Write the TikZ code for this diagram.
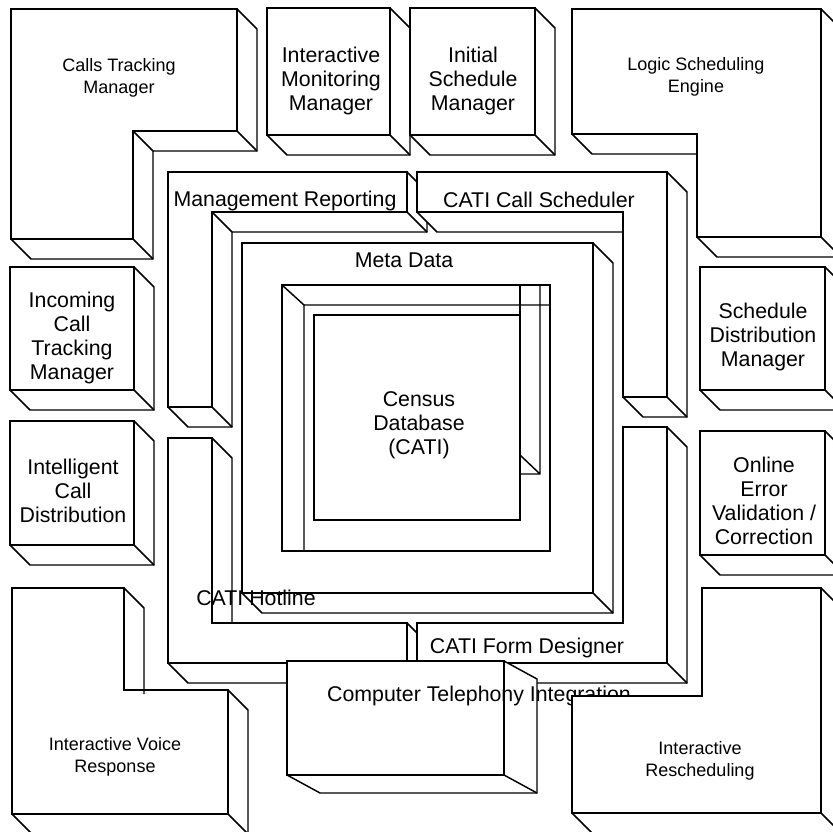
\documentclass[tikz,border=0pt]{standalone}
\usepackage{fontspec}
\setmainfont{Liberation Sans}

% block with depth: x0, y0, x1, y1, dx, dy
\newcommand{\cubeblock}[6]{%
  \filldraw[face] (#1,#2) -- (#3,#2) -- (#3+#5,#2+#6) -- (#3+#5,#4+#6) -- (#1+#5,#4+#6) -- (#1,#4) -- cycle;
  \draw[face] (#1,#2) rectangle (#3,#4);
  \draw[edge] (#3,#4) -- (#3+#5,#4+#6);
}

\tikzset{
  face/.style={draw=black, fill=white, line width=1.1pt, line join=miter},
  edge/.style={draw=black, line width=1.1pt},
  bigtext/.style={font=\fontsize{16}{18}\selectfont, align=center, inner sep=0pt},
  smalltext/.style={font=\fontsize{13.5}{17}\selectfont, align=center, inner sep=0pt}
}

\begin{document}
\begin{tikzpicture}[x=0.75pt, y=-0.75pt]
    \useasboundingbox (0,0) rectangle (833,832);

    % Meta Data with the census database inside
    \cubeblock{242}{243}{593}{593}{20}{20}
    \draw[edge] (282,285) rectangle (550,551);
    \draw[edge] (282,285) -- (304,305) -- (550,305) (304,305) -- (304,551);
    \draw[face] (314,315) rectangle (520,520);
    \draw[edge] (520,285) -- (520,315);
    \draw[edge] (540,285) -- (540,474) -- (520,474) (520,455) -- (540,474);

    % Management Reporting
    \filldraw[face] (168,172) -- (407,172) -- (427,192) -- (427,232) -- (232,232) -- (232,427) -- (188,427) -- (168,407) -- cycle;
    \draw[face] (168,172) -- (407,172) -- (407,212) -- (212,212) -- (212,407) -- (168,407) -- cycle;
    \draw[edge] (407,212) -- (427,232) (212,212) -- (232,232) (212,407) -- (232,427);

    % CATI Call Scheduler
    \filldraw[face] (417,172) -- (667,172) -- (687,192) -- (687,417) -- (643,417) -- (623,397) -- (623,232) -- (437,232) -- (417,212) -- cycle;
    \draw[face] (417,172) -- (667,172) -- (667,397) -- (623,397) -- (623,212) -- (417,212) -- cycle;
    \draw[edge] (667,397) -- (687,417);

    % CATI Hotline
    \filldraw[face] (168,438) -- (212,438) -- (232,458) -- (232,623) -- (407,623) -- (427,643) -- (427,683) -- (188,683) -- (168,663) -- cycle;
    \draw[face] (168,438) -- (212,438) -- (212,623) -- (407,623) -- (407,663) -- (168,663) -- cycle;
    \draw[edge] (407,663) -- (427,683);

    % CATI Form Designer
    \filldraw[face] (623,427) -- (667,427) -- (687,447) -- (687,683) -- (437,683) -- (417,663) -- (417,623) -- (623,623) -- cycle;
    \draw[face] (623,427) -- (667,427) -- (667,663) -- (417,663) -- (417,623) -- (623,623) -- cycle;
    \draw[edge] (667,663) -- (687,683);

    % Computer Telephony Integration
    \cubeblock{287}{661}{504}{775}{33}{18}

    % labels of the middle part
    \node[bigtext, anchor=base] (meta) at (404,267) {Meta Data};
    \node[bigtext] (census) at (419,425) {Census\\Database\\(CATI)};
    \node[bigtext, anchor=base] (mgmt) at (285,206) {Management Reporting};
    \node[bigtext, anchor=base] (sched) at (539,207) {CATI Call Scheduler};
    \node[bigtext, anchor=base] (hotline) at (256,605) {CATI Hotline};
    \node[bigtext, anchor=base] (form) at (527,653) {CATI Form Designer};
    \node[bigtext, anchor=base] (cti) at (479,701) {Computer Telephony Integration};

    % outer blocks
    \filldraw[face] (11,9) -- (237,9) -- (257,29) -- (257,151) -- (153,151) -- (153,259) -- (31,259) -- (11,239) -- cycle;
    \draw[face] (11,9) -- (237,9) -- (237,131) -- (133,131) -- (133,239) -- (11,239) -- cycle;
    \draw[edge] (237,131) -- (257,151) (133,131) -- (153,151) (133,239) -- (153,259);

    \filldraw[face] (572,9) -- (821,9) -- (841,29) -- (841,257) -- (717,257) -- (697,237) -- (697,154) -- (592,154) -- (572,134) -- cycle;
    \draw[face] (572,9) -- (821,9) -- (821,237) -- (697,237) -- (697,134) -- (572,134) -- cycle;
    \draw[edge] (821,237) -- (841,257);

    \cubeblock{267}{8}{390}{135}{20}{20}
    \cubeblock{410}{8}{535}{135}{20}{20}
    \cubeblock{10}{267}{134}{390}{20}{20}
    \cubeblock{10}{421}{134}{545}{20}{20}
    \cubeblock{700}{267}{825}{390}{20}{20}
    \cubeblock{700}{431}{825}{555}{20}{20}

    \filldraw[face] (12,588) -- (124,588) -- (144,608) -- (144,690) -- (228,690) -- (248,710) -- (248,834) -- (32,834) -- (12,814) -- cycle;
    \draw[face] (12,588) -- (124,588) -- (124,690) -- (228,690) -- (228,814) -- (12,814) -- cycle;
    \draw[edge] (228,814) -- (248,834) (144,690) -- (144,694);

    \filldraw[face] (702,588) -- (821,588) -- (841,608) -- (841,833) -- (592,833) -- (572,813) -- (572,696) -- (702,696) -- cycle;
    \draw[face] (702,588) -- (821,588) -- (821,813) -- (572,813) -- (572,696) -- (702,696) -- cycle;
    \draw[edge] (821,813) -- (841,833);

    % labels of the outer blocks
    \node[smalltext] (calls) at (119,78) {Calls Tracking\\Manager};
    \node[bigtext] (monitor) at (331,81) {Interactive\\Monitoring\\Manager};
    \node[bigtext] (initial) at (473,81) {Initial\\Schedule\\Manager};
    \node[smalltext] (logic) at (696,77) {Logic Scheduling\\Engine};
    \node[bigtext] (incoming) at (72,338) {Incoming\\Call\\Tracking\\Manager};
    \node[bigtext] (intel) at (73,491) {Intelligent\\Call\\Distribution};
    \node[bigtext] (distrib) at (763,337) {Schedule\\Distribution\\Manager};
    \node[bigtext] (online) at (764,501) {Online\\Error\\Validation /\\Correction};
    \node[smalltext] (voice) at (115,757) {Interactive Voice\\Response};
    \node[smalltext] (resched) at (700,761) {Interactive\\Rescheduling};
\end{tikzpicture}
\end{document}
